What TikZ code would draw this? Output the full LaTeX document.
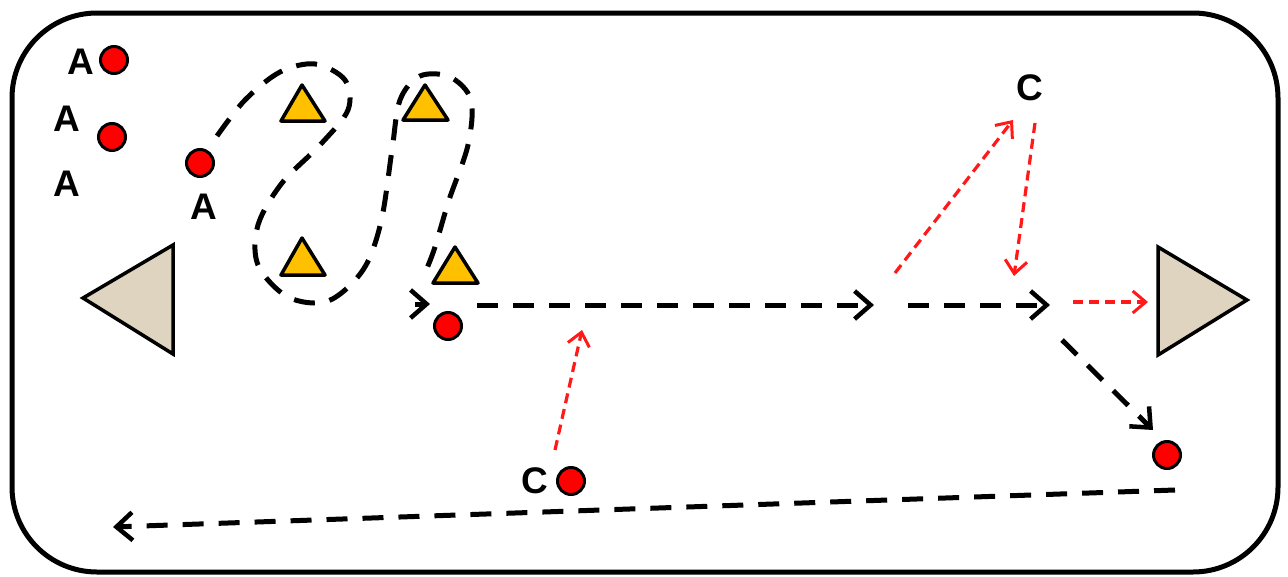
\documentclass[tikz,border=0pt]{standalone}
\usepackage{fontspec}
\setmainfont{Liberation Sans}
\usetikzlibrary{arrows.meta}
\definecolor{dotred}{RGB}{255,0,0}
\definecolor{conegold}{RGB}{255,192,0}
\definecolor{goalbeige}{RGB}{222,212,192}
\definecolor{arrred}{RGB}{255,25,25}
\begin{document}
\begin{tikzpicture}[x=1pt,y=-1pt,
  player/.style={circle,draw=black,fill=dotred,line width=3pt,minimum size=27pt,inner sep=0pt},
  lbl/.style={font=\fontsize{37}{40}\selectfont\bfseries,inner sep=0pt},
  cone/.style={draw=black,fill=conegold,line width=3.5pt,line join=round},
  goal/.style={draw=black,fill=goalbeige,line width=3.5pt,line join=miter},
  runline/.style={draw=black,line width=5pt,dash pattern=on 21pt off 15pt},
  run/.style={runline,-{Straight Barb[length=16pt,width=28pt,line width=4.5pt]}},
  pass/.style={draw=arrred,line width=3.2pt,dash pattern=on 10pt off 6pt,-{Straight Barb[length=13pt,width=22pt,line width=3pt]}}]
\useasboundingbox (0,0) rectangle (1288,576);
% frame
\draw[line width=5pt,rounded corners=85pt] (12,13) rectangle (1278,572);
% goals
\draw[goal] (83,298) -- (173,245) -- (173,354) -- cycle;
\draw[goal] (1158,247) -- (1247,300) -- (1158,355) -- cycle;
% cones
\draw[cone] (281,121) -- (302,85) -- (325,121) -- cycle;
\draw[cone] (403,120) -- (425,85) -- (448,120) -- cycle;
\draw[cone] (281,275) -- (302,238) -- (325,275) -- cycle;
\draw[cone] (433,283) -- (455,247) -- (478,283) -- cycle;
% players
\node[player] (p1) at (114,60) {};
\node[player] (p2) at (112,137) {};
\node[player] (p3) at (200,163) {};
\node[player] (p4) at (448,326) {};
\node[player] (p5) at (571,481) {};
\node[player] (p6) at (1167,455) {};
% labels
\node[lbl] (a1) at (81,62) {A};
\node[lbl] (a2) at (67,119) {A};
\node[lbl] (a3) at (67,184) {A};
\node[lbl] (a4) at (204,207) {A};
\node[lbl] (c1) at (1030,88) {C};
\node[lbl] (c2) at (535,481) {C};
% free ends of connectors
\coordinate (w0) at (217,136);
\coordinate (w1) at (422,280);
\coordinate (w2) at (415,304);
\coordinate (w3) at (430,304);
\coordinate (s1) at (477,305);
\coordinate (e1) at (874,305);
\coordinate (s2) at (908,305);
\coordinate (e2) at (1050,305);
\coordinate (s3) at (1073,302);
\coordinate (e3) at (1148,302);
\coordinate (s4) at (1062,340);
\coordinate (e4) at (1153,430);
\coordinate (s5) at (1175,490);
\coordinate (e5) at (113,527);
\coordinate (q1) at (895,273);
\coordinate (q2) at (1013,120);
\coordinate (q3) at (1035,123);
\coordinate (q4) at (1014,276);
\coordinate (q5) at (555,450);
\coordinate (q6) at (582,330);
% weaving run
\draw[runline] plot[smooth,tension=0.55] coordinates {(w0) (245,100) (280,72) (315,64) (345,80) (348,110) (320,145) (282,183) (258,225) (258,265) (288,297) (328,301) (363,270) (381,222) (392,150) (400,100) (420,76) (450,77) (471,100) (468,145) (449,200) (434,250) (w1)};
\draw[run] (w2) -- (w3);
% runs
\draw[run] (s1) -- (e1);
\draw[run] (s2) -- (e2);
\draw[run] (s4) -- (e4);
\draw[run] (s5) -- (e5);
% passes
\draw[pass] (s3) -- (e3);
\draw[pass] (q1) -- (q2);
\draw[pass] (q3) -- (q4);
\draw[pass] (q5) -- (q6);
\end{tikzpicture}
\end{document}
